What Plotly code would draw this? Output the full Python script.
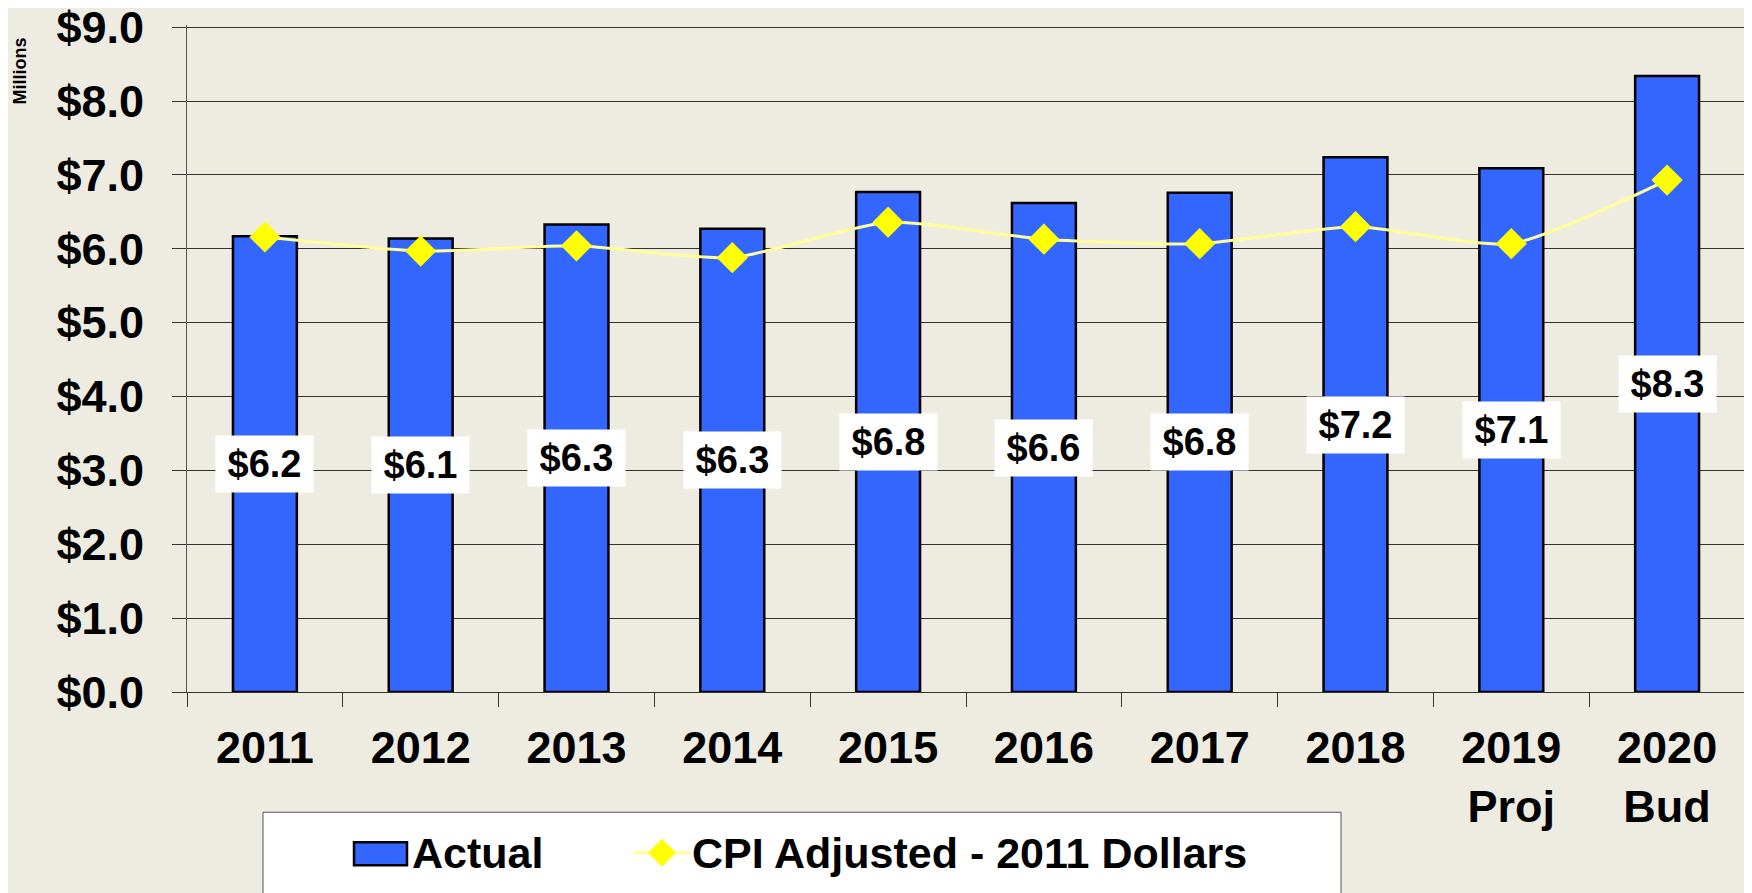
import plotly.graph_objects as go

# chart data (millions of dollars)
years = ["2011", "2012", "2013", "2014", "2015", "2016", "2017", "2018", "2019 Proj", "2020 Bud"]
year_labels = ["2011", "2012", "2013", "2014", "2015", "2016", "2017", "2018", "2019<br>Proj", "2020<br>Bud"]
actual = [6.17, 6.14, 6.33, 6.27, 6.77, 6.62, 6.76, 7.24, 7.09, 8.34]
cpi_adjusted = [6.16, 5.97, 6.04, 5.88, 6.36, 6.13, 6.07, 6.30, 6.07, 6.93]
y_ticks = [0, 1, 2, 3, 4, 5, 6, 7, 8, 9]

bg = "#EEECE1"
font_family = "Liberation Sans, Arial, sans-serif"

# the page body adds an 8px offset, so everything is measured in screen pixels minus 8
OFF = 8
W, H = 1752, 893
L, R, T, B = 187 - OFF, 15, 16.5, 209.3
pw, ph = W - L - R, H - T - B
Y_TOP = 9.03  # a hair above 9 so the top gridline is kept


def px(x):
    return (x - OFF - L) / pw


def py(y):
    return (H - B - (y - OFF)) / ph


pos = list(range(len(years)))  # slot index of each category
bounds = [i - 0.5 for i in range(len(years) + 1)]

fig = go.Figure()

fig.add_trace(go.Bar(x=pos, y=actual, name="Actual", width=0.41, hovertext=years,
                     marker=dict(color="#3366FF", line=dict(color="black", width=2.5))))

fig.add_trace(go.Scatter(x=pos, y=cpi_adjusted, name="CPI Adjusted - 2011 Dollars",
                         mode="lines+markers", hovertext=years,
                         line=dict(color="#FFFF99", width=3, shape="spline", smoothing=0.6),
                         marker=dict(symbol="diamond", size=24, color="#FFFF00")))

# value labels in the middle of each bar
for p, v in zip(pos, actual):
    fig.add_annotation(x=p, y=v / 2, text=f"${v:.1f}", showarrow=False,
                       bgcolor="white", width=97, height=56, borderpad=0,
                       font=dict(family=font_family, size=38, color="black", weight="bold"))

# y-axis unit
fig.add_annotation(xref="paper", yref="paper", x=px(20), y=py(71), text="Millions",
                   xanchor="center", yanchor="middle", textangle=-90, showarrow=False,
                   font=dict(family=font_family, size=18, color="black", weight="bold"))

# hand-made legend, the box runs off the bottom of the picture
fig.add_shape(type="rect", xref="paper", yref="paper", x0=px(263), x1=px(1341),
              y0=py(812), y1=py(910), fillcolor="white", line=dict(color="#555555", width=1))
fig.add_shape(type="rect", xref="paper", yref="paper", x0=px(354), x1=px(407),
              y0=py(842), y1=py(865), fillcolor="#3366FF", line=dict(color="black", width=2.5))
fig.add_shape(type="line", xref="paper", yref="paper", x0=px(634), x1=px(690),
              y0=py(852.5), y1=py(852.5), line=dict(color="#FFFF99", width=3))
cx, cy, r = 662, 852.5, 14
fig.add_shape(type="path", xref="paper", yref="paper",
              path=f"M {px(cx - r)},{py(cy)} L {px(cx)},{py(cy - r)} L {px(cx + r)},{py(cy)} L {px(cx)},{py(cy + r)} Z",
              fillcolor="#FFFF00", line=dict(width=0))
fig.add_annotation(xref="paper", yref="paper", x=px(410), y=py(853), xanchor="left", yanchor="middle",
                   text="Actual", showarrow=False,
                   font=dict(family=font_family, size=43, color="black", weight="bold"))
fig.add_annotation(xref="paper", yref="paper", x=px(690), y=py(853), xanchor="left", yanchor="middle",
                   text="CPI Adjusted - 2011 Dollars", showarrow=False,
                   font=dict(family=font_family, size=43, color="black", weight="bold"))

fig.update_layout(
    width=W, height=H,
    margin=dict(l=L, r=R, t=T, b=B, autoexpand=False),
    paper_bgcolor=bg, plot_bgcolor=bg,
    showlegend=False,
    font=dict(family=font_family, color="black"),
    xaxis=dict(range=[-0.5, len(years) - 0.5], tickmode="array", tickvals=pos, ticktext=year_labels,
               ticks="", showline=True, linecolor="#333333", linewidth=1,
               showgrid=False, zeroline=False, automargin=False, ticklabelstandoff=16,
               ticklabeloverflow="allow",
               minor=dict(tickmode="array", tickvals=bounds, ticks="outside", ticklen=14,
                          tickcolor="#333333", showgrid=False),
               tickfont=dict(family=font_family, size=45, color="black", weight="bold")),
    yaxis=dict(range=[0, Y_TOP], tickmode="array", tickvals=y_ticks,
               ticktext=[f"${t:.1f}" for t in y_ticks],
               ticks="outside", ticklen=14, tickcolor="#333333",
               showline=True, linecolor="#555555", linewidth=1,
               showgrid=True, gridcolor="#333333", gridwidth=1, zeroline=False,
               automargin=False, ticklabelstandoff=19, ticklabeloverflow="allow",
               minor=dict(tickmode="array", tickvals=y_ticks, ticks="inside", ticklen=14,
                          tickcolor="#333333", showgrid=False),
               tickfont=dict(family=font_family, size=45, color="black", weight="bold")),
)

fig.write_html("out.html")
